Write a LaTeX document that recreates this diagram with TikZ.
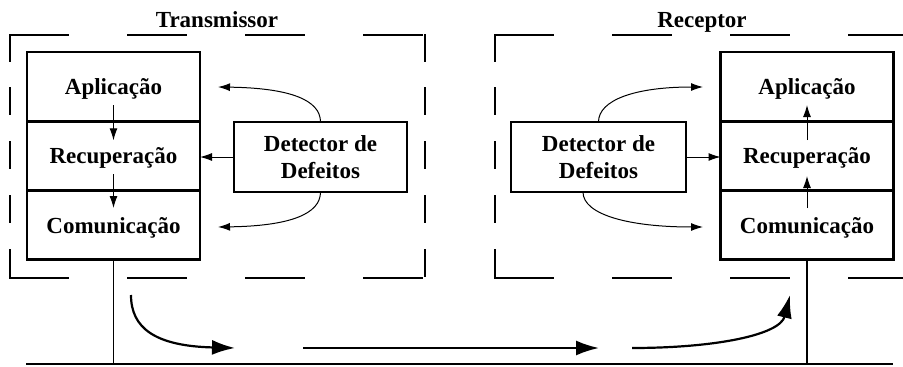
\documentclass[tikz,border=0pt]{standalone}
\usepackage{fontspec}
\setmainfont{Liberation Serif}
\usetikzlibrary{arrows.meta,calc}
\begin{document}
\begin{tikzpicture}[x=1pt,y=-1pt,
  lbl/.style={font=\bfseries\fontsize{23}{27}\selectfont, inner sep=0pt, outer sep=0pt},
  layer/.style={lbl, draw, line width=2.9pt, minimum width=173pt, minimum height=69.3pt, text depth=0pt, align=center},
  detbox/.style={lbl, draw, line width=2.9pt, minimum height=70pt, align=center},
  hdash/.style={line width=2.9pt, line cap=rect, dash pattern=on 57.1pt off 61.2pt},
  vdash/.style={line width=2.9pt, line cap=rect, dash pattern=on 25.1pt off 28.65pt},
  thinarr/.style={line width=1pt, -{Latex[length=12pt,width=8pt]}},
  bigarr/.style={line width=2.2pt, -{Latex[length=23pt,width=15pt]}},
  stem/.style={line width=1.6pt},
  bus/.style={line width=2.8pt}]
\useasboundingbox (0,0) rectangle (903,367);
\clip (0,0) rectangle (903,367);
% dashed enclosures
\draw[hdash] (10,35) -- (425,35);
\draw[hdash] (10,278) -- (425,278);
\draw[vdash] (10,35) -- (10,278);
\draw[vdash] (425,35) -- (425,278);
\draw[hdash] (495,35) -- (910,35);
\draw[hdash] (495,278) -- (910,278);
\draw[vdash] (495,35) -- (495,278);
\draw[vdash] (910,35) -- (910,278);
% titles
\node[lbl, anchor=base] (tT) at (217,27) {Transmissor};
\node[lbl, anchor=base] (tR) at (702,27) {Receptor};
% left stack
\node[layer] (aplL) at (113.5,86.65) {Aplicação};
\node[layer] (recL) at (113.5,155.95) {Recuperação};
\node[layer] (comL) at (113.5,225.25) {Comunicação};
\node[detbox, minimum width=173pt] (detL) at (320.5,157) {Detector de\\Defeitos};
% right stack
\node[layer] (aplR) at (807,86.65) {Aplicação};
\node[layer] (recR) at (807,155.95) {Recuperação};
\node[layer] (comR) at (807,225.25) {Comunicação};
\node[detbox, minimum width=175pt] (detR) at (598.5,157) {Detector de\\Defeitos};
% free ends of the detector arrows
\coordinate (aL) at (218,87);
\coordinate (cL) at (218,227);
\coordinate (aR) at (703,87);
\coordinate (cR) at (703,227);
% stack arrows
\draw[thinarr] ([yshift=16pt]aplL.south) -- ([yshift=-19pt]recL.north);
\draw[thinarr] ([yshift=16.6pt]recL.south) -- ([yshift=-17.4pt]comL.north);
\draw[thinarr] ([yshift=-17.4pt]comR.north) -- ([yshift=14.6pt]comR.north);
\draw[thinarr] ([yshift=-18.7pt]recR.north) -- ([yshift=16.3pt]aplR.south);
% detector arrows
\draw[thinarr] (detL.west) -- (detL.west -| recL.east);
\draw[thinarr] (detR.east) -- (detR.east -| recR.west);
\draw[thinarr] (detL.north) .. controls (320.5,100) and (290,88) .. (aL);
\draw[thinarr] (detL.south) .. controls (320.5,214) and (290,226) .. (cL);
\draw[thinarr] (detR.north) .. controls (598.5,100) and (635,87) .. (aR);
\draw[thinarr] ([xshift=-15.5pt]detR.south) .. controls (583,215) and (630,227) .. (cR);
% bus
\coordinate (busL) at (26,364);
\coordinate (busR) at (893,364);
\draw[bus] (busL) -- (busR);
\draw[stem] (comL.south) -- (comL.south |- busL);
\draw[stem] (comR.south) -- (comR.south |- busL);
% transmission arrows
\coordinate (b1s) at (131,295);
\coordinate (b1e) at (235,348);
\coordinate (b2s) at (303,348);
\coordinate (b2e) at (599,348);
\coordinate (b3s) at (632,348);
\coordinate (b3e) at (790,295);
\draw[bigarr] (b1s) .. controls (131,328) and (155,346) .. (b1e);
\draw[bigarr] (b2s) -- (b2e);
\draw[bigarr] (b3s) .. controls (715,348) and (780,335) .. (b3e);
\end{tikzpicture}
\end{document}
